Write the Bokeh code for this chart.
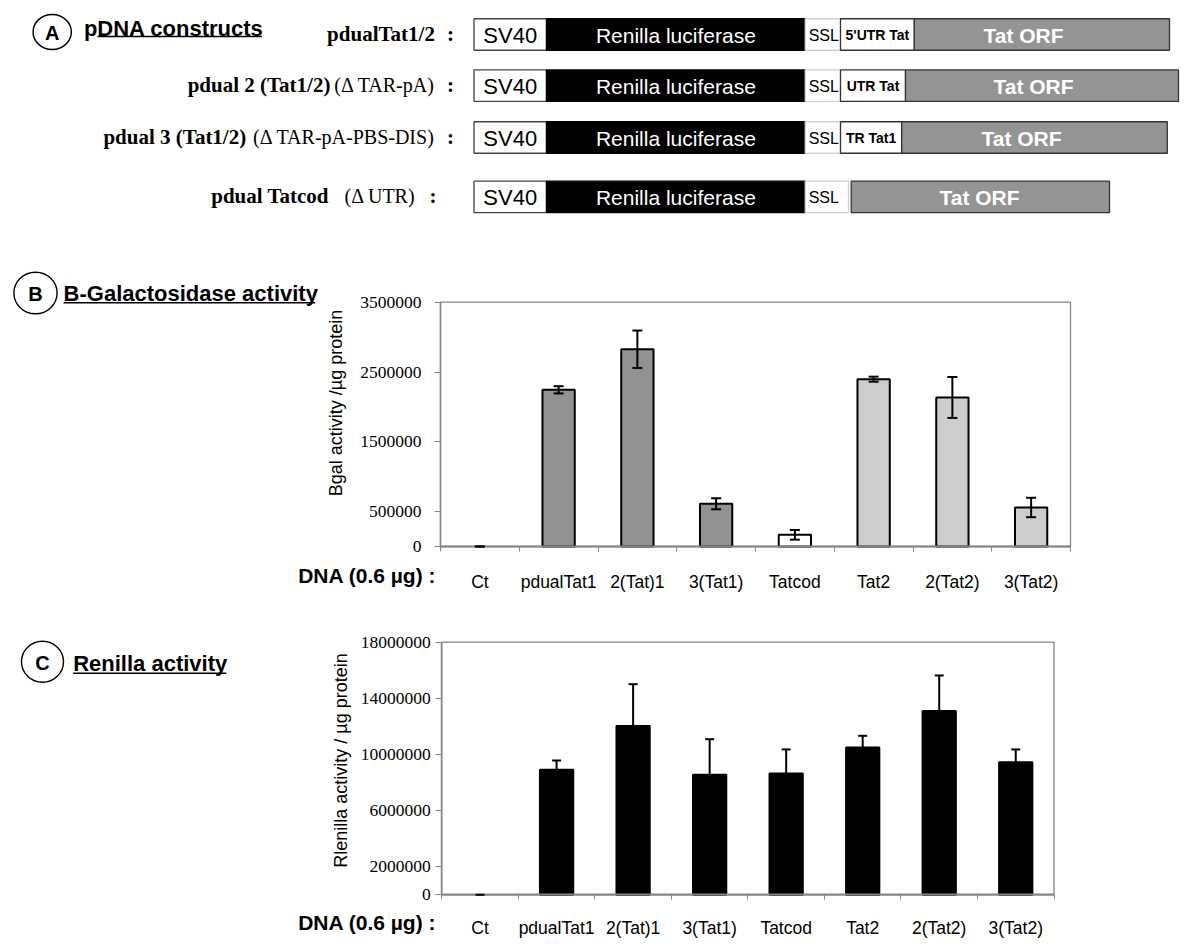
import math
from bokeh.plotting import figure
from bokeh.models import (ColumnDataSource, Range1d, LinearAxis, FixedTicker,
                          NumeralTickFormatter, Whisker, TeeHead)
from bokeh.core.properties import value
from bokeh.embed import file_html
from bokeh.resources import INLINE

# ------------------------------------------------------------------ data
categories = ["Ct", "pdualTat1", "2(Tat)1", "3(Tat1)", "Tatcod", "Tat2", "2(Tat2)", "3(Tat2)"]
bgal_values = [0, 2245000, 2826000, 612000, 167000, 2397000, 2135000, 559000]
bgal_errors = [0, 52000, 268000, 79000, 69000, 36000, 293000, 139000]
bgal_groups = ["Ct", "Tat1", "Tat1", "Tat1", "Tatcod", "Tat2", "Tat2", "Tat2"]
renilla_values = [0, 8910000, 12020000, 8550000, 8650000, 10500000, 13090000, 9450000]
renilla_errors = [0, 660000, 2990000, 2540000, 1710000, 830000, 2540000, 910000]
bgal_ticks = [0, 500000, 1500000, 2500000, 3500000]
renilla_ticks = [0, 2000000, 6000000, 10000000, 14000000, 18000000]
bgal_axis_max = 3500000
renilla_axis_max = 18000000

construct_labels = [
    [("pdualTat1/2", "bold"), (":", "bold")],
    [("pdual 2 (Tat1/2)", "bold"), ("(Δ TAR-pA)", "normal"), (":", "bold")],
    [("pdual 3 (Tat1/2)", "bold"), ("(Δ TAR-pA-PBS-DIS)", "normal"), (":", "bold")],
    [("pdual Tatcod", "bold"), ("(Δ UTR)", "normal"), (":", "bold")],
]
# segment names and lengths of each construct (diagram units)
construct_segments = [
    [("SV40", 72.5), ("Renilla luciferase", 258.7), ("SSL", 35.3), ("5'UTR Tat", 73.8), ("Tat ORF", 255.2)],
    [("SV40", 72.5), ("Renilla luciferase", 258.7), ("SSL", 35.3), ("UTR Tat", 65.0), ("Tat ORF", 273.0)],
    [("SV40", 72.5), ("Renilla luciferase", 258.7), ("SSL", 35.3), ("TR Tat1", 61.2), ("Tat ORF", 265.6)],
    [("SV40", 72.5), ("Renilla luciferase", 258.7), ("SSL", 43.3), ("", 2.7), ("Tat ORF", 258.3)],
]

# ------------------------------------------------------------------ layout (page pixels)
PAGE_L, PAGE_R, PAGE_T, PAGE_B = 0, 1184, 0, 943
B_FRAME = dict(left=440.0, right=1070.0, top=301.7, zero=546.0)
C_FRAME = dict(left=441.3, right=1053.5, top=641.7, zero=894.3)
GREY = "#858585"
SANS = value("Liberation Sans")
SERIF = value("Liberation Serif")

p = figure(width=PAGE_R - PAGE_L, height=PAGE_B - PAGE_T,
           x_range=Range1d(PAGE_L, PAGE_R), y_range=Range1d(PAGE_B, PAGE_T),
           x_axis_type=None, y_axis_type=None, min_border=0,
           toolbar_location=None, output_backend="svg",
           outline_line_color=None, background_fill_color="white",
           border_fill_color="white")

n = len(categories)


def cat_range(fr):
    k = (fr["right"] - fr["left"]) / n
    return Range1d((PAGE_L - fr["left"]) / k, (PAGE_R - fr["left"]) / k)


def val_range(fr, vmax):
    k = (fr["zero"] - fr["top"]) / vmax
    return Range1d((fr["zero"] - PAGE_B) / k, (fr["zero"] - PAGE_T) / k)


p.extra_x_ranges = {"bx": cat_range(B_FRAME), "cx": cat_range(C_FRAME)}
p.extra_y_ranges = {"by": val_range(B_FRAME, bgal_axis_max),
                    "cy": val_range(C_FRAME, renilla_axis_max)}

xs = [i + 0.5 for i in range(n)]
group_fill = {"Ct": "white", "Tat1": "#929292", "Tatcod": "white", "Tat2": "#cdcdcd"}


def style_axes(yax, xax, y_standoff, x_standoff):
    yax.axis_line_color = GREY
    yax.axis_line_width = 1.5
    yax.major_tick_line_color = GREY
    yax.major_tick_out = 6
    yax.major_tick_in = 0
    yax.minor_tick_out = 0
    yax.minor_tick_in = 0
    yax.major_label_text_font = "Liberation Serif"
    yax.major_label_text_font_size = "17.5px"
    yax.major_label_text_color = "black"
    yax.major_label_standoff = y_standoff
    xax.axis_line_color = GREY
    xax.axis_line_width = 2
    xax.major_tick_out = 0
    xax.major_tick_in = 0
    xax.minor_tick_out = 5
    xax.minor_tick_in = 0
    xax.minor_tick_line_color = GREY
    xax.major_label_text_font = "Liberation Sans"
    xax.major_label_text_font_size = "17.5px"
    xax.major_label_text_color = "black"
    xax.major_label_standoff = x_standoff


def chart(xname, yname, vals, errs, vmax, ticks, fills, bar_w, two_sided, cap, y_standoff, x_standoff):
    src = ColumnDataSource(dict(
        x=xs, top=vals,
        upper=[v + e for v, e in zip(vals, errs)],
        lower=[(v - e) if two_sided else v for v, e in zip(vals, errs)],
        fill=fills,
        line_alpha=[1 if v > 0 else 0 for v in vals],
    ))
    p.quad(left=0, right=n, bottom=0, top=vmax, fill_color=None,
           line_color=GREY, line_width=1.3, x_range_name=xname, y_range_name=yname)
    p.vbar(x="x", top="top", bottom=0, width=bar_w, source=src, fill_color="fill",
           line_color="black", line_alpha="line_alpha", line_width=2,
           x_range_name=xname, y_range_name=yname)
    wh = Whisker(base="x", upper="upper", lower="lower", source=src, dimension="height",
                 line_color="black", line_width=2,
                 upper_head=TeeHead(size=cap, line_color="black", line_width=2),
                 lower_head=TeeHead(size=cap, line_color="black", line_width=2) if two_sided else None,
                 x_range_name=xname, y_range_name=yname, level="overlay")
    p.add_layout(wh)
    yax = LinearAxis(x_range_name=xname, y_range_name=yname, fixed_location=0,
                     bounds=(0, vmax), ticker=FixedTicker(ticks=ticks, minor_ticks=[]),
                     formatter=NumeralTickFormatter(format="0"))
    xax = LinearAxis(x_range_name=xname, y_range_name=yname, fixed_location=0,
                     bounds=(0, n),
                     ticker=FixedTicker(ticks=xs, minor_ticks=list(range(n + 1))),
                     major_label_overrides={x: c for x, c in zip(xs, categories)})
    style_axes(yax, xax, y_standoff, x_standoff)
    p.add_layout(yax, "left")
    p.add_layout(xax, "below")


chart("bx", "by", bgal_values, bgal_errors, bgal_axis_max, bgal_ticks,
      [group_fill[g] for g in bgal_groups], 0.41, True, 10, 13, 20)
chart("cx", "cy", renilla_values, renilla_errors, renilla_axis_max, renilla_ticks,
      ["black"] * n, 0.435, False, 9, 5, 18)

# axis titles
p.text(x=[335.6, 340.6], y=[402.5, 760.0],
       text=["Bgal activity /µg protein", "Rlenilla activity / µg protein"],
       angle=math.pi / 2, text_align="center", text_baseline="middle",
       text_font=SANS, text_font_size="18px", text_color="black")
# DNA row labels
p.text(x=[297.7, 297.7], y=[575.0, 922.0], text=["DNA (0.6 µg) :", "DNA (0.6 µg) :"],
       text_align="left", text_baseline="middle", text_font=SANS,
       text_font_size="21px", text_font_style="bold", text_color="black")

# section headers
p.ellipse(x=[51.7, 35.0, 42.0], y=[31.5, 292.5, 661.2], width=[38.3, 43.2, 42.0],
          height=[35.0, 41.6, 41.0], fill_color=None, line_color="black", line_width=1.4)
p.text(x=[51.7, 35.0, 42.0], y=[32.0, 293.0, 662.0], text=["A", "B", "C"],
       text_align="center", text_baseline="middle", text_font=SANS,
       text_font_size="20px", text_font_style="bold", text_color="black")
p.text(x=[83.4, 63.1, 72.7], y=[27.5, 292.5, 662.5],
       text=["pDNA constructs", "B-Galactosidase activity", "Renilla activity"],
       text_align="left", text_baseline="middle", text_font=SANS,
       text_font_size="22px", text_font_style="bold", text_color="black")
p.segment(x0=[97.0, 63.1, 72.7], y0=[36.0, 302.3, 672.7],
          x1=[261.4, 314.6, 225.8], y1=[36.0, 302.3, 672.7],
          line_color="black", line_width=1.6)

# construct diagram
A_X0 = 473.5
ROW_Y = [34.0, 85.2, 137.0, 196.4]
ROW_H = 31.5
ORF_TEXT_X = [1023.0, 1033.0, 1021.0, 979.0]
LABEL_RIGHT_X = [[434.4, 453.5], [329.9, 434.4, 453.5], [245.7, 434.4, 453.5], [328.4, 415.2, 436.0]]
LABEL_SIZE = {"bold": "21px", "normal": "20px"}
seg_style = {
    "SV40": ("white", "#444444", "black", "22px", "normal", "center"),
    "Renilla luciferase": ("black", "black", "white", "21px", "normal", "center"),
    "SSL": ("white", "#d0d0d0", "black", "16px", "normal", "left"),
    "Tat ORF": ("#949494", "#333333", "white", "21px", "bold", "center"),
}
utr_style = ("white", "#333333", "black", "14px", "bold", "center")

q = dict(left=[], right=[], top=[], bottom=[], fill=[], line=[])
texts = {}
for r, segs in enumerate(construct_segments):
    x = A_X0
    for name, length in segs:
        if name:
            fill, line, tcol, tsize, tstyle, talign = seg_style.get(name, utr_style)
            q["left"].append(x)
            q["right"].append(x + length)
            q["top"].append(ROW_Y[r] - ROW_H / 2)
            q["bottom"].append(ROW_Y[r] + ROW_H / 2)
            q["fill"].append(fill)
            q["line"].append(line)
            if name == "Tat ORF":
                tx = ORF_TEXT_X[r]
            elif talign == "left":
                tx = x + 3.5
            else:
                tx = x + length / 2
            key = (tcol, tsize, tstyle, talign)
            d = texts.setdefault(key, dict(x=[], y=[], text=[]))
            d["x"].append(tx)
            d["y"].append(ROW_Y[r] + 0.5)
            d["text"].append(name)
        x += length

p.quad(left="left", right="right", top="top", bottom="bottom", fill_color="fill",
       line_color="line", line_width=1.3, source=ColumnDataSource(q))
for (tcol, tsize, tstyle, talign), d in texts.items():
    p.text(x="x", y="y", text="text", source=ColumnDataSource(d), text_color=tcol,
           text_font=SANS, text_font_size=tsize, text_font_style=tstyle,
           text_align=talign, text_baseline="middle")

for style in ("bold", "normal"):
    d = dict(x=[], y=[], text=[])
    for r, pieces in enumerate(construct_labels):
        for (txt, st), rx in zip(pieces, LABEL_RIGHT_X[r]):
            if st == style:
                d["x"].append(rx)
                d["y"].append(ROW_Y[r] - 0.5)
                d["text"].append(txt)
    p.text(x="x", y="y", text="text", source=ColumnDataSource(d), text_color="black",
           text_font=SERIF, text_font_size=LABEL_SIZE[style], text_font_style=style,
           text_align="right", text_baseline="middle")

open("out.html", "w").write(file_html(p, INLINE))
